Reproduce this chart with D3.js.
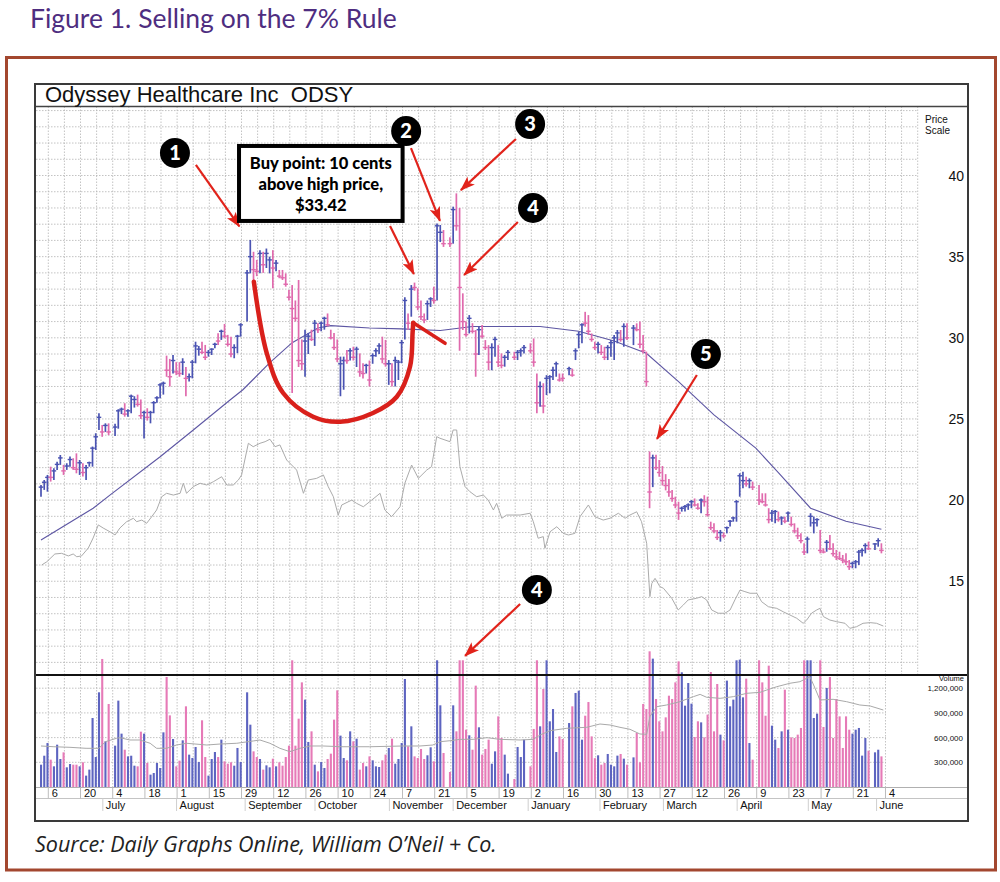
<!DOCTYPE html>
<html>
<head>
<meta charset="utf-8">
<script src="https://cdn.jsdelivr.net/npm/d3@7"></script>
<style>
  body { margin: 0; background: #fff; }
  svg { display: block; }
  .chart-text { font-family: "Liberation Sans", Arial, sans-serif; fill: #111; }
</style>
</head>
<body>
<svg id="chart" width="1000" height="882"></svg>
<script>
// ---- Data, one slot per trading day, null = holiday ----
const highs = [
  20.93,21.24,21.55,22.06,21.96,22.37,22.78,22.17,22.27,22.68,
  22.58,22.88,22.47,22.27,22.17,22.37,23.3,24.12,25.35,24.63,
  24.73,24.73,null,24.7,25.6,25.7,25.97,25.6,26.5,26.4,
  26.5,26.2,25.5,25.66,25.5,26.1,26.4,27.2,27.3,28.9,
  28.7,28.94,28.5,28.5,28.74,28.2,27.8,28.63,29.76,29.5,
  29.76,29.56,29.25,29.35,29.7,30.28,30.5,30.85,30.18,30.07,
  29.6,30.18,30.9,null,34.18,36.03,35.3,34.8,35.4,35.3,
  35.5,35.0,35.4,34.8,34.18,34.18,33.97,32.95,33.25,32.3,
  33.56,29.9,30.5,30.3,30.5,31.1,30.9,31.0,31.3,31.5,
  30.5,30.3,29.9,28.84,28.84,29.25,29.35,29.45,29.45,29.04,
  28.43,28.4,28.6,29.04,29.35,29.66,30.07,29.87,28.63,28.43,
  28.84,28.63,29.87,32.5,31.5,33.25,33.4,33.05,32.3,31.5,
  32.3,32.5,33.15,37.05,36.95,36.64,null,36.2,38.08,38.9,
  38.0,32.74,31.0,31.4,30.9,30.48,30.68,30.79,29.86,29.55,
  29.66,30.07,29.55,29.04,28.94,29.25,null,29.14,29.25,29.35,
  29.55,null,29.66,29.96,27.8,27.3,27.2,27.7,27.7,28.22,
  28.53,27.8,27.8,null,28.22,28.1,29.35,30.38,30.9,31.6,
  31.4,30.27,29.76,29.76,29.55,29.45,29.55,29.86,30.17,30.48,
  30.48,30.89,30.89,null,30.79,30.89,31.0,30.17,29.15,23.0,
  22.8,22.8,22.47,22.1,21.6,21.3,20.62,20.21,19.9,19.6,
  19.7,19.8,20.0,20.1,19.8,20.1,20.3,20.21,18.67,18.57,
  18.16,18.16,18.0,18.37,18.78,18.98,20.0,21.65,21.75,21.44,
  21.34,21.14,null,20.93,20.42,20.42,19.5,19.39,19.39,19.29,
  19.0,18.98,19.29,18.98,18.57,18.3,17.95,17.34,17.75,19.19,
  18.98,18.88,18.16,17.03,17.54,17.85,17.34,16.93,16.82,16.62,
  16.72,16.31,16.21,16.31,16.93,17.03,17.34,17.44,null,17.34,
  17.65,17.34
];
const lows = [
  20.21,20.63,20.52,21.14,21.24,21.86,22.17,21.55,21.86,22.06,
  21.86,21.65,21.55,21.45,21.24,22.06,22.06,23.09,24.32,23.9,
  24.2,24.0,null,23.95,24.4,25.3,25.14,25.14,25.35,25.7,
  25.76,25.0,23.8,24.9,24.73,25.35,26.0,26.27,26.5,27.6,
  27.0,27.8,27.7,27.6,27.71,26.4,27.3,27.5,28.43,28.9,
  29.0,28.63,28.84,28.94,29.35,29.56,29.87,29.97,29.46,28.8,
  28.74,29.05,30.07,null,31.0,33.97,33.46,33.8,33.97,34.0,
  34.3,33.97,33.05,34.1,33.67,33.56,33.15,32.3,26.6,31.0,
  28.2,28.0,27.6,29.0,29.8,29.5,30.3,30.4,30.5,30.7,
  29.9,29.25,28.5,26.4,26.8,28.4,28.6,28.6,28.2,27.6,
  27.5,27.8,27.0,28.4,28.84,29.0,28.43,28.22,27.1,27.0,
  27.0,27.4,28.43,29.9,30.5,31.3,32.9,31.7,31.1,30.9,
  31.1,31.9,32.1,32.3,35.9,35.6,null,35.6,35.8,36.6,
  29.2,30.48,30.07,30.27,30.27,27.6,28.94,29.96,29.25,28.0,
  28.0,28.84,28.2,28.12,28.22,28.63,null,28.63,28.63,28.84,
  29.04,null,29.04,28.22,25.35,25.75,25.35,26.47,26.58,27.4,
  27.6,27.3,27.3,null,27.7,27.6,28.63,29.35,29.66,30.68,
  30.17,29.76,29.25,29.04,28.94,28.63,28.63,28.84,28.63,29.66,
  29.76,29.45,29.86,null,29.55,30.4,29.35,29.04,27.0,19.5,
  20.8,21.86,21.44,20.9,20.6,20.2,19.9,19.5,18.78,19.29,
  19.29,19.4,19.5,19.6,19.4,19.19,19.6,18.98,18.16,17.95,
  17.54,17.44,17.65,17.95,18.37,18.67,18.67,20.21,20.73,20.83,
  20.73,20.62,null,19.7,19.8,19.6,18.57,18.67,18.57,18.67,
  18.47,18.57,18.67,18.37,17.95,17.6,17.34,16.62,16.72,18.37,
  17.95,18.37,16.72,16.72,16.82,16.93,16.52,16.31,16.31,16.11,
  16.0,15.7,15.8,15.8,16.0,16.52,16.72,16.93,null,16.93,
  17.13,16.72
];
const closes = [
  20.8,21.1,21.4,21.4,21.8,22.2,22.6,21.8,22.1,22.5,
  22.0,21.9,22.3,21.7,22.0,22.3,23.2,23.9,25.1,24.2,
  24.6,24.2,null,24.5,25.5,25.6,25.3,25.5,26.4,26.2,
  25.9,25.2,25.4,25.1,25.4,26.0,26.3,27.1,27.2,28.0,
  27.6,28.6,27.9,27.8,28.5,27.5,27.6,28.5,29.5,29.3,
  29.1,28.8,29.1,29.3,29.6,29.8,30.4,30.1,29.6,29.0,
  29.4,30.1,30.8,null,34.0,35.0,34.2,34.1,35.2,34.5,
  35.2,34.8,34.3,34.6,33.8,33.7,33.3,32.5,31.8,31.2,
  28.6,28.4,29.8,30.1,29.9,30.9,30.5,30.9,31.2,30.8,
  30.0,29.4,28.7,28.4,28.6,28.6,29.2,28.8,29.3,27.9,
  27.8,28.3,27.4,28.9,29.2,29.5,28.7,28.4,28.4,27.3,
  28.6,28.5,29.7,32.3,30.9,33.0,33.1,31.9,31.3,31.1,
  32.1,32.4,32.3,36.9,36.5,35.8,null,35.8,37.9,36.9,
  33.1,31.0,30.2,31.2,30.4,29.0,30.5,30.1,29.4,28.5,
  29.4,29.9,28.5,28.3,28.8,29.1,null,28.8,29.1,29.2,
  29.4,null,29.2,28.5,26.0,27.0,25.8,27.5,27.6,28.0,
  28.4,27.4,27.5,null,28.1,27.7,29.2,30.2,30.8,30.9,
  30.4,29.9,29.4,29.6,29.1,28.8,29.4,29.7,30.0,30.3,
  29.9,30.7,30.0,null,30.6,30.5,29.6,29.2,27.3,20.5,
  22.6,22.0,21.7,21.2,20.9,20.5,20.1,19.7,19.2,19.5,
  19.6,19.7,19.9,19.7,19.5,20.0,19.9,19.1,18.3,18.1,
  17.7,18.0,17.8,18.3,18.7,18.9,19.9,21.5,21.2,21.0,
  21.2,20.8,null,20.0,19.9,19.7,18.8,19.2,19.3,18.8,
  18.9,18.7,19.2,18.5,18.1,17.8,17.5,16.8,17.6,19.0,
  18.6,18.8,16.9,16.8,17.4,17.0,16.7,16.5,16.4,16.3,
  16.2,15.9,16.1,16.2,16.8,16.9,17.2,17.0,null,17.3,
  17.5,16.9
];
// volume in thousands of shares
const volumes = [
  271,380,534,332,251,514,340,421,239,279,
  271,271,251,300,138,211,838,364,1150,1555,
  555,1008,null,502,1049,648,453,372,380,259,
  251,672,648,292,150,170,292,231,664,1336,
  870,583,251,320,567,980,393,352,486,304,
  810,364,138,340,425,364,575,312,283,300,
  259,474,304,null,1150,757,433,364,340,211,
  263,239,344,251,300,259,364,502,1539,502,
  830,1271,1061,547,676,271,190,304,231,340,
  405,818,1174,624,352,324,676,555,587,211,
  292,251,372,324,251,243,324,393,474,587,
  283,340,534,1312,494,737,372,352,462,340,
  385,482,312,1539,992,413,null,182,992,676,
  1539,1539,696,628,453,1231,725,393,462,575,
  283,433,858,595,393,162,null,97,486,364,
  575,null,251,705,1539,737,1190,1539,798,947,
  425,615,583,null,777,980,1142,1170,575,866,
  1032,615,350,385,271,292,401,271,251,381,
  401,344,271,null,360,656,300,1008,947,1648,
  1559,1069,798,676,846,1109,1069,1271,1526,1393,
  988,1263,1012,607,798,785,603,879,1397,676,
  1251,636,567,1292,980,1061,1539,1547,1089,1316,
  534,332,null,1539,1271,866,1474,745,575,474,
  676,1182,696,603,595,636,717,1539,1539,1539,
  838,891,1539,729,1203,1336,595,1069,858,474,
  858,696,648,696,717,381,595,441,null,421,
  453,372
];
// u = up day (blue), d = down day (pink), - = no trading
const dayDir = (
  "uuuduuuduu dduduuuuud ud-uuuduuu dduduuuuud dudduduuuu " +
  "dduuududdd uuu-uuddud uududddddd dduududuud ddduududud " +
  "duduuuddud uuuududddd uuduud-dud dddudduddd uudduu-duu " +
  "u-ddduduuu udd-uduuud dddudduuuu dud-uddddd uddddddddu " +
  "uuuddudddd duduuuuuud ud-dddduud ududdddduu uudduddddd " +
  "dduuuuud-u ud").replace(/ /g, "");

// moving average line [day, price]
const maLine = [[0,17.54],[16.2,19.5],[21.4,20.31],[37,22.67],[47.3,24.32],[58.7,26.17],
  [62.7,26.8],[71,28.45],[78,29.7],[86,30.6],[90,30.75],[102,30.6],[112,30.55],[124,30.45],
  [134,30.7],[155,30.7],[167,30.4],[178,29.8],[188,29.05],[198,27.3],[209,25.25],[222,23.2],
  [229,21.7],[239,19.5],[250,18.7],[261,18.2]];

// relative strength line [day, value on price scale]
const rsLine = [[0.2,16.0],[1.8,16.2],[4.3,16.68],[6.4,16.72],[8.5,16.56],[10,16.68],[11.1,16.51],
  [12.6,16.56],[14.7,17.05],[16.2,17.67],[17.8,18.47],[19.3,18.28],[21.4,18.05],[23,17.85],
  [24.5,18.28],[26.6,18.67],[28.7,18.88],[29.7,18.67],[31.3,18.77],[32.8,18.57],[34.4,18.98],
  [35.9,19.39],[37.5,20.21],[39,20.42],[41.1,20.31],[43.2,20.42],[44.2,21.04],[45.2,20.42],
  [47.3,20.83],[49.4,21.04],[51.5,20.93],[53.5,21.13],[56.1,21.44],[57.7,20.93],[59.7,20.93],
  [61.3,21.24],[62.3,21.55],[64.4,23.5],[65.9,23.29],[68,23.5],[69.6,23.6],[71.1,23.75],
  [72.7,23.29],[74.2,23.4],[76.3,22.47],[79.4,21.85],[81.5,20.42],[83,21.24],[85.6,21.34],
  [87.7,21.55],[89.2,20.83],[90.8,20.21],[92.3,19.08],[93.4,19.7],[96.5,20.0],[98,19.8],
  [100.1,19.59],[102.7,20.0],[105.3,20.42],[106.8,19.39],[108.9,18.98],[111.5,19.59],
  [113,21.04],[115.1,22.16],[117.2,21.34],[119.8,21.85],[121.3,22.06],[122.9,23.91],
  [123.9,23.81],[127,23.6],[128,24.32],[129.1,24.32],[130.1,22.06],[131.7,20.83],
  [133.2,20.52],[135.3,20.21],[137.4,20.31],[138.9,20.0],[140.5,19.39],[141.5,19.8],
  [143.1,18.88],[144.6,19.08],[148.8,19.08],[151.9,19.19],[152.9,18.67],[154.4,17.65],
  [156,17.75],[156.5,17.03],[158.1,18.05],[160.2,18.36],[162.2,17.95],[163.8,17.85],
  [165.8,17.95],[167.4,18.98],[170,19.7],[172,18.98],[174.6,18.77],[176.7,18.88],
  [179.3,19.19],[181.4,18.88],[182.9,19.08],[185,19.28],[186.5,18.67],[188.1,17.34],
  [189.1,14.05],[189.7,14.87],[190.7,15.18],[192.2,14.67],[193.3,14.57],[195.9,13.95],
  [197.9,13.23],[199.5,13.54],[201,13.85],[203.6,13.95],[205.2,14.05],[206.7,13.85],
  [208.3,13.23],[210.3,13.03],[212.4,13.03],[214,13.23],[215.5,13.85],[217.1,14.46],
  [218.6,14.36],[220.2,14.26],[222.3,14.26],[223.8,13.74],[225.9,13.43],[228.5,13.33],
  [230.5,13.12],[232.6,12.92],[234.7,12.72],[236.7,12.41],[237.8,12.61],[239.3,13.03],
  [240.9,13.23],[241.9,13.33],[243,12.82],[245,12.61],[247.1,12.51],[249.7,12.41],
  [251.2,12.1],[253.3,12.2],[255.3,12.41],[257.5,12.45],[259.5,12.41],[261.6,12.24]];

// volume moving average [day, thousands]
const volMaLine = [[0,498],[4,489],[9,482],[14,470],[18,470],[20,550],[23.5,592],[24.5,599],
  [27.6,571],[30.7,571],[33.9,531],[35.9,470],[39,470],[42.1,510],[45.2,531],[51.5,510],
  [55.6,522],[60.8,531],[65.9,559],[68,571],[71.1,531],[74.2,470],[77.3,429],[80.4,470],
  [83.5,498],[87.6,498],[93.8,489],[102,489],[112.4,498],[117.7,498],[121.7,510],[123.9,550],
  [127,562],[130.1,579],[134.2,579],[138.5,599],[142.5,579],[148.8,571],[152.9,579],[155,632],
  [158.1,684],[163.3,713],[169.5,725],[173.6,765],[176.7,753],[179.8,725],[182.9,701],[186,644],
  [188.1,640],[189.1,854],[191.2,975],[194.3,996],[198.4,1036],[202.6,1097],[204.7,1125],
  [206.7,1090],[210.9,1077],[215,1097],[219.2,1138],[223.3,1150],[225.4,1178],[228.5,1218],
  [232.6,1260],[235.7,1279],[238.8,1340],[240.4,1199],[241.9,1057],[246,1065],[250.2,1036],
  [254.3,996],[257.5,984],[261.6,935]];

// axis labels
const weekLabels = ["6","20","4","18","1","15","29","12","26","10","24","7","21","5","19",
  "2","16","30","13","27","12","26","9","23","7","21","4"];
const monthLabels = ["July","August","September","October","November","December",
  "January","February","March","April","May","June"];
const monthStartDays = [19.2,42.1,63.4,85.1,108.2,128,151.3,173.6,193.3,216.2,238.3,259.5];
const priceTicks = [15, 20, 25, 30, 35, 40];
const volumeTicks = [300, 600, 900, 1200];

// annotations, in [day, price]
const cupPath = [[66.1,33.46],[70.1,29.06],[75.2,26.6],[84.5,25.14],[92.9,24.83],[103.1,25.37],
  [110.5,26.37],[114.6,28.22],[115.4,30.3],[115.6,30.93],[125.5,29.66]];
const markers = [
  { label: "1", day: 41.6, price: 41.39 },
  { label: "2", day: 113.4, price: 42.74 },
  { label: "3", day: 151.9, price: 43.17 },
  { label: "4", day: 152.8, price: 38.0 },
  { label: "5", day: 206.5, price: 29.0 },
  { label: "4", day: 154.0, price: 14.46 }
];
const arrows = [
  [[48.1,40.65],[61.6,36.86]],
  [[108.4,36.89],[115.8,33.93]],
  [[114.9,41.69],[123.9,37.2]],
  [[147.5,42.25],[130.4,39.1]],
  [[148.1,37.13],[131.4,33.87]],
  [[203.7,27.71],[191.3,23.77]],
  [[148.8,13.6],[131.7,10.4]]
];
const buyBox = { day0: 61.5, day1: 112.3, top: 41.82, bottom: 37.2,
  lines: ["Buy point: 10 cents", "above high price,", "$33.42"] };

// ---- Layout ----
const svg = d3.select("#chart");
const box = { left: 35, right: 968, top: 84, titleBottom: 106.5, split: 675, volBase: 787.5, axisRow: 798.5, bottom: 821 };
const gridRight = 918, volGridRight = 886;
const firstWeekDay = 2.27;

const x = d3.scaleLinear().domain([0, 261]).range([41, 881.4]);
const y = d3.scaleLinear().domain([15, 40]).range([581.25, 175.5]);
const yv = d3.scaleLinear().domain([0, 1200]).range([787, 688.2]);

const upColor = "#4a53b2", downColor = "#e06aad";
const volUp = "#5d64c0", volDown = "#e67ab7";
const red = "#e1231b";

const days = d3.range(highs.length)
  .map(i => ({ i, h: highs[i], l: lows[i], c: closes[i], v: volumes[i], up: dayDir[i] === "u" }))
  .filter(d => d.h != null);

// figure title
svg.append("text")
  .attr("x", 30).attr("y", 28)
  .style("font-family", "Lato, 'Open Sans', sans-serif")
  .style("font-size", "26.5px")
  .style("fill", "#4e2d80")
  .text("Figure 1. Selling on the 7% Rule");

// brown outer frame
svg.append("rect")
  .attr("x", 6.5).attr("y", 57.5).attr("width", 989).attr("height", 812.5)
  .attr("fill", "none").attr("stroke", "#a3472f").attr("stroke-width", 3);

// chart box background
svg.append("rect")
  .attr("x", box.left).attr("y", box.top)
  .attr("width", box.right - box.left).attr("height", box.bottom - box.top)
  .attr("fill", "#fff");

// grid
const grid = svg.append("g")
  .attr("stroke", "#b4b4b4").attr("stroke-width", 0.8).attr("stroke-dasharray", "1.5,1.5");

grid.selectAll("line.h")
  .data(d3.range(10, 45))
  .enter().append("line")
  .attr("x1", box.left + 1).attr("x2", gridRight)
  .attr("y1", d => y(d)).attr("y2", d => y(d));

grid.selectAll("line.v")
  .data(d3.range(0, 55))
  .enter().append("line")
  .attr("x1", k => x(firstWeekDay + 5 * k)).attr("x2", k => x(firstWeekDay + 5 * k))
  .attr("y1", box.titleBottom).attr("y2", box.split);

grid.selectAll("line.vv")
  .data(d3.range(0, 53))
  .enter().append("line")
  .attr("x1", k => x(firstWeekDay + 5 * k)).attr("x2", k => x(firstWeekDay + 5 * k))
  .attr("y1", box.split).attr("y2", box.volBase);

grid.selectAll("line.hv")
  .data(volumeTicks)
  .enter().append("line")
  .attr("x1", box.left + 1).attr("x2", volGridRight)
  .attr("y1", d => yv(d)).attr("y2", d => yv(d));

// volume bars
svg.append("g").selectAll("rect")
  .data(days)
  .enter().append("rect")
  .attr("x", d => x(d.i) - 1)
  .attr("width", 2.1)
  .attr("y", d => yv(d.v))
  .attr("height", d => yv(0) - yv(d.v))
  .attr("fill", d => d.up ? volUp : volDown);

// lines
const lineGen = (ys) => d3.line().x(d => x(d[0])).y(d => ys(d[1]));

svg.append("path")
  .datum(volMaLine)
  .attr("d", lineGen(yv))
  .attr("fill", "none").attr("stroke", "#a9a9a9").attr("stroke-width", 1);

svg.append("path")
  .datum(rsLine)
  .attr("d", lineGen(y))
  .attr("fill", "none").attr("stroke", "#ababab").attr("stroke-width", 1);

svg.append("path")
  .datum(maLine)
  .attr("d", lineGen(y))
  .attr("fill", "none").attr("stroke", "#5d56a3").attr("stroke-width", 1.1);

// price bars
const bars = svg.append("g");
bars.selectAll("line.range")
  .data(days)
  .enter().append("line")
  .attr("x1", d => x(d.i)).attr("x2", d => x(d.i))
  .attr("y1", d => y(d.h)).attr("y2", d => y(d.l))
  .attr("stroke", d => d.up ? upColor : downColor)
  .attr("stroke-width", 1.7);

bars.selectAll("line.close")
  .data(days)
  .enter().append("line")
  .attr("x1", d => x(d.i) - 2.3).attr("x2", d => x(d.i) + 2.3)
  .attr("y1", d => y(d.c)).attr("y2", d => y(d.c))
  .attr("stroke", d => d.up ? upColor : downColor)
  .attr("stroke-width", 1.4);

// frame lines of the chart box
const frame = svg.append("g");
frame.append("line")
  .attr("x1", box.left).attr("x2", box.right)
  .attr("y1", box.titleBottom).attr("y2", box.titleBottom)
  .attr("stroke", "#444").attr("stroke-width", 1.5);
frame.append("line")
  .attr("x1", box.left).attr("x2", box.right)
  .attr("y1", box.split).attr("y2", box.split)
  .attr("stroke", "#111").attr("stroke-width", 2);
frame.append("line")
  .attr("x1", box.left).attr("x2", box.right)
  .attr("y1", box.volBase).attr("y2", box.volBase)
  .attr("stroke", "#b0b0b0").attr("stroke-width", 1);
frame.append("line")
  .attr("x1", box.left).attr("x2", box.right)
  .attr("y1", box.axisRow).attr("y2", box.axisRow)
  .attr("stroke", "#c4c4c4").attr("stroke-width", 1);
frame.append("rect")
  .attr("x", box.left).attr("y", box.top)
  .attr("width", box.right - box.left).attr("height", box.bottom - box.top)
  .attr("fill", "none").attr("stroke", "#3a3a3a").attr("stroke-width", 2);

// chart title
svg.append("text")
  .attr("class", "chart-text")
  .attr("x", 45).attr("y", 101.5)
  .style("font-size", "22px")
  .style("white-space", "pre")
  .text("Odyssey Healthcare Inc  ODSY");

// x axis: week labels
const weekAxis = svg.append("g");
weekLabels.forEach((lab, n) => {
  const px = x(firstWeekDay + 10 * n);
  weekAxis.append("line")
    .attr("x1", px).attr("x2", px)
    .attr("y1", box.volBase).attr("y2", box.axisRow)
    .attr("stroke", "#bdbdbd");
  weekAxis.append("text")
    .attr("class", "chart-text")
    .attr("x", px + 3.5).attr("y", 797)
    .style("font-size", "11px")
    .text(lab);
});

// x axis: month labels
monthLabels.forEach((lab, n) => {
  const px = x(monthStartDays[n]);
  weekAxis.append("line")
    .attr("x1", px).attr("x2", px)
    .attr("y1", box.axisRow).attr("y2", 811)
    .attr("stroke", "#cfcfcf");
  weekAxis.append("text")
    .attr("class", "chart-text")
    .attr("x", px + 3).attr("y", 809)
    .style("font-size", "11px")
    .text(lab);
});

// price scale
svg.append("text").attr("class", "chart-text")
  .attr("x", 925).attr("y", 123).style("font-size", "10px").text("Price");
svg.append("text").attr("class", "chart-text")
  .attr("x", 925).attr("y", 134).style("font-size", "10px").text("Scale");
svg.append("g").selectAll("text")
  .data(priceTicks)
  .enter().append("text")
  .attr("class", "chart-text")
  .attr("x", 964).attr("y", d => y(d) + 5)
  .attr("text-anchor", "end")
  .style("font-size", "14px")
  .text(d => d);

// volume scale
svg.append("text").attr("class", "chart-text")
  .attr("x", 964).attr("y", 681).attr("text-anchor", "end")
  .style("font-size", "7.5px").text("Volume");
svg.append("g").selectAll("text")
  .data(volumeTicks)
  .enter().append("text")
  .attr("class", "chart-text")
  .attr("x", 963).attr("y", d => yv(d) + 3)
  .attr("text-anchor", "end")
  .style("font-size", "8px")
  .text(d => d3.format(",")(d * 1000));

// ---- annotations ----
const defs = svg.append("defs");
defs.append("marker")
  .attr("id", "head")
  .attr("markerUnits", "userSpaceOnUse")
  .attr("markerWidth", 15).attr("markerHeight", 11)
  .attr("refX", 14).attr("refY", 5.5)
  .attr("orient", "auto")
  .append("path")
  .attr("d", "M0,0 L15,5.5 L0,11 L3.5,5.5 Z")
  .attr("fill", red);

// cup
svg.append("path")
  .datum(cupPath.slice(0, 10))
  .attr("d", d3.line().x(d => x(d[0])).y(d => y(d[1])).curve(d3.curveCatmullRom))
  .attr("fill", "none").attr("stroke", "#d9201b").attr("stroke-width", 4.5)
  .attr("stroke-linecap", "round");
svg.append("line")
  .attr("x1", x(cupPath[9][0])).attr("y1", y(cupPath[9][1]))
  .attr("x2", x(cupPath[10][0])).attr("y2", y(cupPath[10][1]))
  .attr("stroke", "#d9201b").attr("stroke-width", 3.5).attr("stroke-linecap", "round");

// arrows
svg.append("g").selectAll("line")
  .data(arrows)
  .enter().append("line")
  .attr("x1", d => x(d[0][0])).attr("y1", d => y(d[0][1]))
  .attr("x2", d => x(d[1][0])).attr("y2", d => y(d[1][1]))
  .attr("stroke", red).attr("stroke-width", 2.2)
  .attr("marker-end", "url(#head)");

// buy point box
const bx0 = x(buyBox.day0), bx1 = x(buyBox.day1), by0 = y(buyBox.top), by1 = y(buyBox.bottom);
svg.append("rect")
  .attr("x", bx0).attr("y", by0).attr("width", bx1 - bx0).attr("height", by1 - by0)
  .attr("fill", "#fff").attr("stroke", "#000").attr("stroke-width", 4);
svg.append("g").selectAll("text")
  .data(buyBox.lines)
  .enter().append("text")
  .attr("x", (bx0 + bx1) / 2)
  .attr("y", (d, i) => by0 + 23 + i * 21)
  .attr("text-anchor", "middle")
  .style("font-family", "Lato, 'Open Sans', sans-serif")
  .style("font-weight", "900")
  .style("font-size", "16.5px")
  .style("fill", "#000")
  .text(d => d);

// numbered circles
const mk = svg.append("g").selectAll("g")
  .data(markers)
  .enter().append("g")
  .attr("transform", d => "translate(" + x(d.day) + "," + y(d.price) + ")");
mk.append("circle").attr("r", 15).attr("fill", "#000");
mk.append("text")
  .attr("y", 7)
  .attr("text-anchor", "middle")
  .style("font-family", "Lato, 'Open Sans', sans-serif")
  .style("font-weight", "900")
  .style("font-size", "20px")
  .style("fill", "#fff")
  .text(d => d.label);

// source line
svg.append("text")
  .attr("x", 35).attr("y", 852)
  .style("font-family", "'Open Sans', Lato, sans-serif")
  .style("font-style", "italic")
  .style("font-size", "21.5px")
  .style("fill", "#222")
  .text("Source: Daily Graphs Online, William O\u2019Neil + Co.");
</script>
</body>
</html>
